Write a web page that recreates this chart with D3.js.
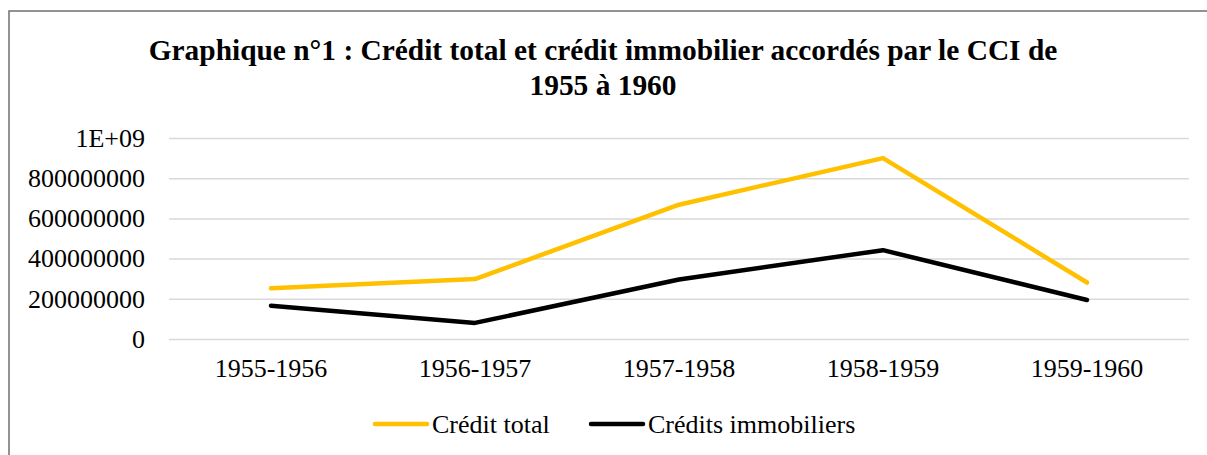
<!DOCTYPE html>
<html>
<head>
<meta charset="utf-8">
<script src="https://cdn.jsdelivr.net/npm/d3@7"></script>
<style>
  body { margin: 0; background: #fff; }
  svg, svg text { font-family: "Times New Roman", Times, "Liberation Serif", "DejaVu Serif", serif; }
</style>
</head>
<body>
<div id="chart"></div>
<script>
// données du graphique
var periodes = ["1955-1956", "1956-1957", "1957-1958", "1958-1959", "1959-1960"];
var creditTotal = [252000000, 298000000, 668000000, 900000000, 281000000];
var creditsImmobiliers = [166000000, 80000000, 296000000, 442000000, 194000000];
var yTicks = [0, 200000000, 400000000, 600000000, 800000000, 1000000000];
var seriesNames = ["Crédit total", "Crédits immobiliers"];
var seriesColors = ["#ffc000", "#000000"];

var W = 1207, H = 455;
var svg = d3.select("#chart").append("svg")
    .attr("width", W)
    .attr("height", H);

// cadre
svg.append("rect")
    .attr("x", 9).attr("y", 11)
    .attr("width", 1230).attr("height", 500)
    .attr("fill", "none")
    .attr("stroke", "#6f6f6f")
    .attr("stroke-width", 1.5);

// titre
var title = svg.append("text")
    .attr("text-anchor", "middle")
    .attr("font-weight", "bold")
    .attr("font-size", 29.4);
title.append("tspan").attr("x", 603).attr("y", 60)
    .text("Graphique n°1 : Crédit total et crédit immobilier accordés par le CCI de");
title.append("tspan").attr("x", 603).attr("y", 95)
    .text("1955 à 1960");

// échelles
var margin = { left: 169, right: 1189, top: 138, bottom: 339 };
var x = d3.scaleBand().domain(periodes).range([margin.left, margin.right]);
var y = d3.scaleLinear().domain([0, 1000000000]).range([margin.bottom, margin.top]);

// grille + étiquettes y
var yAxis = d3.axisLeft(y)
    .tickValues(yTicks)
    .tickSize(-(margin.right - margin.left))
    .tickPadding(24)
    .tickFormat(function(d) { return d === 1000000000 ? "1E+09" : String(d); });

var gy = svg.append("g")
    .attr("transform", "translate(" + margin.left + ",0)")
    .call(yAxis);
gy.attr("font-family", null);
gy.select(".domain").remove();
gy.selectAll(".tick line").attr("stroke", "#d9d9d9").attr("stroke-width", 1.5);
gy.selectAll(".tick text")
    .attr("font-size", 26)
    .attr("fill", "#000");

// étiquettes x
var gx = svg.append("g")
    .attr("transform", "translate(0," + margin.bottom + ")")
    .call(d3.axisBottom(x).tickSize(0).tickPadding(20));
gx.attr("font-family", null);
gx.select(".domain").remove();
gx.selectAll(".tick text")
    .attr("font-size", 26)
    .attr("fill", "#000");

// courbes
var line = d3.line()
    .x(function(d, i) { return x(periodes[i]) + x.bandwidth() / 2; })
    .y(function(d) { return y(d); });

[creditTotal, creditsImmobiliers].forEach(function(s, k) {
    svg.append("path")
        .datum(s)
        .attr("d", line)
        .attr("fill", "none")
        .attr("stroke", seriesColors[k])
        .attr("stroke-width", 4.5)
        .attr("stroke-linecap", "round")
        .attr("stroke-linejoin", "round");
});

// légende
var legendX = [375, 591];
seriesNames.forEach(function(name, k) {
    var g = svg.append("g").attr("transform", "translate(" + legendX[k] + ",424)");
    g.append("line")
        .attr("x1", 0).attr("x2", 52)
        .attr("stroke", seriesColors[k])
        .attr("stroke-width", 4.5)
        .attr("stroke-linecap", "round");
    g.append("text")
        .attr("x", 57).attr("y", 9)
        .attr("font-size", 26)
        .text(name);
});
</script>
</body>
</html>
